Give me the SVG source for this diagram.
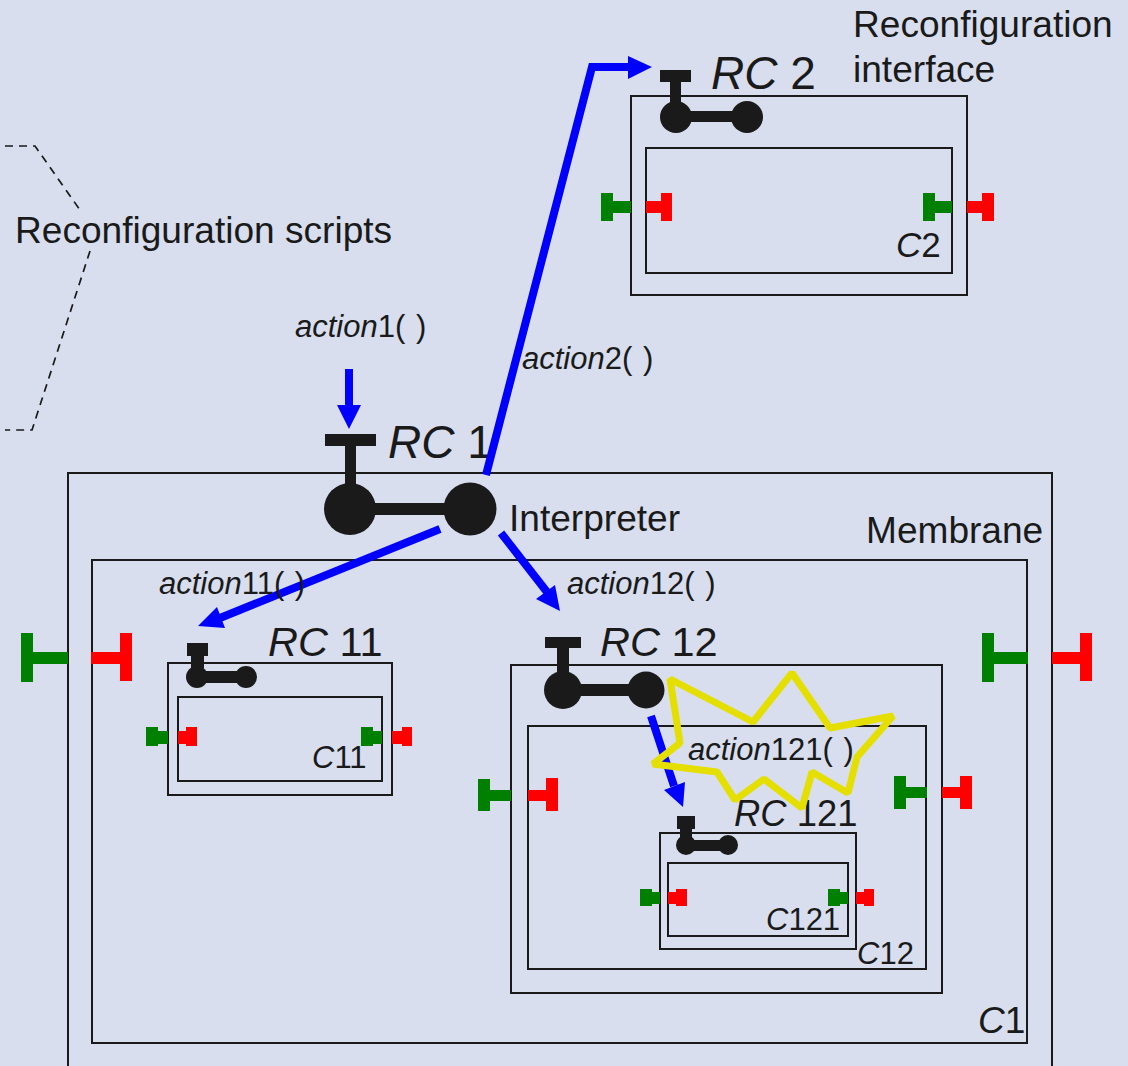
<svg xmlns="http://www.w3.org/2000/svg" width="1128" height="1066" viewBox="0 0 1128 1066">
<style>
text{font-family:"Liberation Sans",Arial,sans-serif;fill:#1a1a1a}
.i{font-style:italic}
.box{fill:none;stroke:#1a1a1a;stroke-width:2}
.k{fill:#1a1a1a}
.g{fill:#008000}
.r{fill:#ff0000}
.w{fill:none;stroke:#0000ff;stroke-width:8}
.h{fill:#0000ff}
.d{fill:none;stroke:#1a1a1a;stroke-width:1.7;stroke-dasharray:8 6}
.y{fill:none;stroke:#e5df00;stroke-width:7;stroke-linejoin:bevel}
.t37{font-size:37.1px}.t31{font-size:31px;word-spacing:2px}.t46{font-size:46px}.t42{font-size:41.5px}.t35{font-size:35px}.t36{font-size:36.4px}
</style>
<rect width="1128" height="1066" fill="#d8deee"/>
<g id="scripts-brace">
<path class="d" d="M5 146H35L80 210"/>
<path class="d" d="M90 251L32 430H5"/>
<text class="t37" x="15" y="243">Reconfiguration scripts</text>
</g>
<g id="reconfiguration-interface-label">
<text class="t37" x="853" y="37">Reconfiguration</text>
<text class="t37" x="853" y="82">interface</text>
</g>
<g id="C1">
<rect class="box" x="68" y="473" width="984" height="610"/>
<rect class="box" x="92" y="560" width="935" height="483"/>
<text class="t37" x="866" y="543">Membrane</text>
<text class="t37" x="978" y="1033"><tspan class="i">C</tspan>1</text>
<path class="g" d="M21 633h12v19h35v12h-35v18h-12z"/>
<path class="r" d="M132 633h-12v19h-29v12h29v17h12z"/>
<path class="g" d="M982 633h12v19h34v12h-34v18h-12z"/>
<path class="r" d="M1092 633h-12v19h-28v12h28v17h12z"/>
</g>
<g id="RC1">
<path class="k" d="M325 434h51v12h-20v40h-11v-40h-20z"/>
<rect class="k" x="350" y="503" width="120" height="12"/>
<circle class="k" cx="350" cy="509" r="26"/>
<circle class="k" cx="470" cy="509" r="26.5"/>
<text class="t46" x="388" y="458"><tspan class="i">RC</tspan> 1</text>
<text class="t37" x="509" y="531">Interpreter</text>
</g>
<g id="C2">
<rect class="box" x="631" y="96" width="336" height="199"/>
<rect class="box" x="646" y="148" width="306" height="125"/>
<path class="k" d="M660 70h31v12h-10v25h-11v-25h-10z"/>
<rect class="k" x="676" y="111" width="71" height="11"/>
<circle class="k" cx="676" cy="117" r="16"/>
<circle class="k" cx="747" cy="117" r="16"/>
<text class="t46" x="711" y="89"><tspan class="i">RC</tspan> 2</text>
<text class="t35" x="896" y="257"><tspan class="i">C</tspan>2</text>
<path class="g" d="M601 193h12v8h18v12h-18v8h-12z"/>
<path class="r" d="M672 193h-11v8h-15v12h15v8h11z"/>
<path class="g" d="M923 193h12v8h17v12h-17v8h-12z"/>
<path class="r" d="M994 193h-12v8h-15v12h15v8h12z"/>
</g>
<g id="C11">
<rect class="box" x="168" y="663" width="224" height="132"/>
<rect class="box" x="178" y="697" width="204" height="84"/>
<path class="k" d="M187 643h21v13h-4v12h-13v-12h-4z"/>
<rect class="k" x="197" y="671" width="49" height="12"/>
<circle class="k" cx="197" cy="677" r="11"/>
<circle class="k" cx="246" cy="677" r="11"/>
<text class="t42" x="268" y="656"><tspan class="i">RC</tspan> 11</text>
<text class="t31" x="312" y="768"><tspan class="i">C</tspan>11</text>
<path class="g" d="M146 727h12v4h10v13h-10v2h-12z"/>
<path class="r" d="M197 727h-11v4h-8v13h8v2h11z"/>
<path class="g" d="M361 727h12v4h9v13h-9v2h-12z"/>
<path class="r" d="M412 727h-10v4h-10v13h10v2h10z"/>
</g>
<g id="C12">
<rect class="box" x="511" y="665" width="431" height="328"/>
<rect class="box" x="528" y="726" width="398" height="243"/>
<path class="k" d="M545 637h36v11h-12v35h-12v-35h-12z"/>
<rect class="k" x="563" y="684" width="83" height="12"/>
<circle class="k" cx="563" cy="690" r="19"/>
<circle class="k" cx="646" cy="690" r="18.5"/>
<text class="t42" x="600" y="656"><tspan class="i">RC</tspan> 12</text>
<text class="t31" x="857" y="964"><tspan class="i">C</tspan>12</text>
<path class="g" d="M478 779h12v11h21v11h-21v10h-12z"/>
<path class="r" d="M558 778h-12v12h-18v11h18v10h12z"/>
<path class="g" d="M894 776h12v11h21v11h-21v11h-12z"/>
<path class="r" d="M972 776h-12v11h-18v11h18v11h12z"/>
</g>
<g id="C121">
<rect class="box" x="660" y="833" width="196" height="116"/>
<rect class="box" x="668" y="863" width="180" height="73"/>
<path class="k" d="M677 816h18v13h-3v12h-12v-12h-3z"/>
<rect class="k" x="686" y="840" width="42" height="11"/>
<circle class="k" cx="686" cy="845" r="10"/>
<circle class="k" cx="728" cy="845" r="10"/>
<text class="t31" x="766" y="930"><tspan class="i">C</tspan>121</text>
<path class="g" d="M640 889h12v3h8v12h-8v2h-12z"/>
<path class="r" d="M687 889h-11v3h-8v12h8v2h11z"/>
<path class="g" d="M828 889h12v3h8v12h-8v2h-12z"/>
<path class="r" d="M874 889h-10v3h-8v12h8v2h10z"/>
<text class="t36" x="734" y="826"><tspan class="i">RC</tspan> 121</text>
</g>
<g id="connectors">
<path class="w" d="M349 369V406"/><path class="h" d="M337 405H361L349 429Z"/>
<path class="w" d="M486 475L592 67H630"/><path class="h" d="M628 56L652 67L628 79Z"/>
<path class="w" d="M440 529L220 618"/><path class="h" d="M217 607L225 628L198 626Z"/>
<path class="w" d="M501 533L547 592"/><path class="h" d="M555 585L536 599L560 611Z"/>
<path class="w" d="M651 716L674 786"/><path class="h" d="M685 782L664 790L683 807Z"/>
</g>
<g id="action-labels">
<text class="t31" x="295" y="337"><tspan class="i">action</tspan>1( )</text>
<text class="t31" x="522" y="369"><tspan class="i">action</tspan>2( )</text>
<text class="t31" x="159" y="594"><tspan class="i">action</tspan>11( )</text>
<text class="t31" x="567" y="594"><tspan class="i">action</tspan>12( )</text>
</g>
<g id="action121">
<path class="y" d="M670 679L753 722L792 673L830 728L893 716L857 757L848 793L812 772L802 808L764 779L735 800L717 772L653 764L680 743Z"/>
<text class="t31" x="688" y="760"><tspan class="i">action</tspan>121( )</text>
</g>
</svg>
